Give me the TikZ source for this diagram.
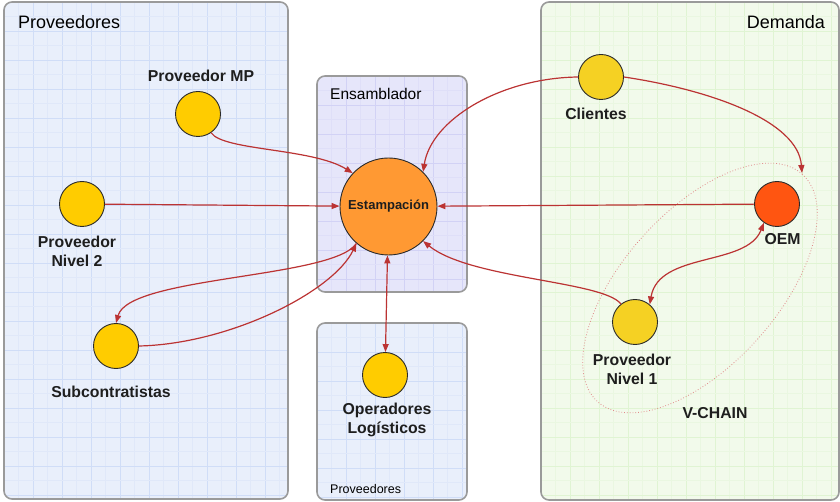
\documentclass[tikz,border=0pt]{standalone}
\usepackage{fontspec}
\setmainfont{Liberation Sans}
\usetikzlibrary{arrows.meta,calc}

\definecolor{provbg}{HTML}{E9EFFB}
\definecolor{provmajor}{HTML}{D0DDF7}
\definecolor{provminor}{HTML}{E0E8F9}
\definecolor{ensbg}{HTML}{E6E6FA}
\definecolor{ensmajor}{HTML}{D2D2F5}
\definecolor{ensminor}{HTML}{DFDFF8}
\definecolor{dembg}{HTML}{F2FAEB}
\definecolor{demmajor}{HTML}{E0F4D3}
\definecolor{demminor}{HTML}{EAF7E1}
\definecolor{panelline}{HTML}{9A9A9A}
\definecolor{flowred}{HTML}{BB3333}
\definecolor{chainred}{HTML}{E08A8A}
\definecolor{circleline}{HTML}{2A2A2A}
\definecolor{yellowA}{HTML}{FFCC00}
\definecolor{yellowB}{HTML}{F5D123}
\definecolor{orangeE}{HTML}{FF9933}
\definecolor{redO}{HTML}{FF5511}
\definecolor{labeltext}{HTML}{1E1E1E}

\begin{document}
\begin{tikzpicture}[x=1pt,y=-1pt,
  panel/.style={draw=panelline, line width=1.6pt, rounded corners=8pt},
  actor/.style={circle, draw=circleline, line width=0.9pt, minimum size=45pt, inner sep=0pt},
  lbl/.style={font=\fontsize{15.8}{19}\selectfont\bfseries, text=labeltext, align=center, anchor=base, inner sep=0pt},
  ttl/.style={font=\fontsize{18}{21}\selectfont, text=black, inner sep=0pt},
  flow/.style={draw=flowred, line width=1.2pt, -{Triangle[length=8pt,width=6pt]}},
  flowboth/.style={draw=flowred, line width=1.2pt, {Triangle[length=8pt,width=6pt]}-{Triangle[length=8pt,width=6pt]}},
  flowplain/.style={draw=flowred, line width=1.2pt},
  chain/.style={draw=chainred, line width=0.8pt, dotted}
]
\useasboundingbox (0,0) rectangle (840,502);

% panel backgrounds with their grids
% Proveedores (left)
\begin{scope}
  \clip[rounded corners=8pt] (4,2) rectangle (288,499);
  \fill[provbg] (4,2) rectangle (288,499);
  \foreach \i in {0,...,19} {
    \draw[provminor, line width=0.5pt] ({4+\i*29+14.5},2) -- ({4+\i*29+14.5},499);
    \draw[provmajor, line width=0.6pt] ({4+\i*29},2) -- ({4+\i*29},499);
  }
  \foreach \i in {0,...,18} {
    \draw[provminor, line width=0.5pt] (4,{2+\i*29+14.5}) -- (288,{2+\i*29+14.5});
    \draw[provmajor, line width=0.6pt] (4,{2+\i*29}) -- (288,{2+\i*29});
  }
\end{scope}
\draw[panel] (4,2) rectangle (288,499);

% Ensamblador
\begin{scope}
  \clip[rounded corners=8pt] (317,76) rectangle (467,292);
  \fill[ensbg] (317,76) rectangle (467,292);
  \foreach \i in {0,...,6} {
    \draw[ensminor, line width=0.5pt] ({317+\i*29+14.5},76) -- ({317+\i*29+14.5},292);
    \draw[ensmajor, line width=0.6pt] ({317+\i*29},76) -- ({317+\i*29},292);
  }
  \foreach \i in {0,...,8} {
    \draw[ensminor, line width=0.5pt] (317,{76+\i*29+14.5}) -- (467,{76+\i*29+14.5});
    \draw[ensmajor, line width=0.6pt] (317,{76+\i*29}) -- (467,{76+\i*29});
  }
\end{scope}
\draw[panel] (317,76) rectangle (467,292);

% Proveedores (logistics)
\begin{scope}
  \clip[rounded corners=8pt] (317,323) rectangle (467,500);
  \fill[provbg] (317,323) rectangle (467,500);
  \foreach \i in {0,...,6} {
    \draw[provminor, line width=0.5pt] ({317+\i*29+14.5},323) -- ({317+\i*29+14.5},500);
    \draw[provmajor, line width=0.6pt] ({317+\i*29},323) -- ({317+\i*29},500);
  }
  \foreach \i in {0,...,7} {
    \draw[provminor, line width=0.5pt] (317,{323+\i*29+14.5}) -- (467,{323+\i*29+14.5});
    \draw[provmajor, line width=0.6pt] (317,{323+\i*29}) -- (467,{323+\i*29});
  }
\end{scope}
\draw[panel] (317,323) rectangle (467,500);

% Demanda (right)
\begin{scope}
  \clip[rounded corners=8pt] (541,2) rectangle (839,500);
  \fill[dembg] (541,2) rectangle (839,500);
  \foreach \i in {0,...,11} {
    \draw[demminor, line width=0.5pt] ({541+\i*29+14.5},2) -- ({541+\i*29+14.5},500);
    \draw[demmajor, line width=0.6pt] ({541+\i*29},2) -- ({541+\i*29},500);
  }
  \foreach \i in {0,...,18} {
    \draw[demminor, line width=0.5pt] (541,{2+\i*29+14.5}) -- (839,{2+\i*29+14.5});
    \draw[demmajor, line width=0.6pt] (541,{2+\i*29}) -- (839,{2+\i*29});
  }
\end{scope}
\draw[panel] (541,2) rectangle (839,500);

% panel titles
\node[ttl, anchor=base west] (tprov) at (18,29) {Proveedores};
\node[ttl, anchor=base east] (tdem) at (825,29) {Demanda};
\node[ttl, font=\fontsize{15.5}{18}\selectfont, anchor=base west] (tens) at (330,100) {Ensamblador};
\node[ttl, font=\fontsize{12.5}{15}\selectfont, anchor=base west] (tlog) at (330,493) {Proveedores};

% V-CHAIN grouping
\coordinate (vc) at (700,288);
\draw[chain, rotate around={48:(vc)}] (vc) ellipse [x radius=153pt, y radius=77pt];
\coordinate (vtop) at (802,173);

% actors
\node[actor, fill=yellowA] (mp) at (198,114) {};
\node[actor, fill=yellowA] (n2) at (82,204) {};
\node[actor, fill=yellowA] (sub) at (116,346) {};
\node[actor, fill=orangeE, minimum size=97pt] (est) at (388.5,206.5)
  {\fontsize{13}{15}\selectfont\bfseries\color{labeltext}Estampación};
\node[actor, fill=yellowA] (op) at (385,375) {};
\node[actor, fill=yellowB] (cli) at (601,77) {};
\node[actor, fill=redO] (oem) at (777,204) {};
\node[actor, fill=yellowB] (n1) at (635,322) {};

% labels (multi-line labels sit on the baseline of their last line)
\node[lbl] (lmp) at (201,82) {Proveedor MP};
\node[lbl] (ln2) at (77,267) {Proveedor\\Nivel 2};
\node[lbl] (lsub) at (111,397) {Subcontratistas};
\node[lbl] (lop) at (387,433) {Operadores\\Logísticos};
\node[lbl] (lcli) at (596,120) {Clientes};
\node[lbl] (loem) at (782.5,245) {OEM};
\node[lbl] (ln1) at (632,384) {Proveedor\\Nivel 1};
\node[lbl] (lvc) at (715,418) {V-CHAIN};

% flows
\draw[flow] (mp.-55) .. controls +(12,18) and +(-40,-25) .. (est.137);
\draw[flow] (n2) -- (est);
\draw[flowplain, -{Triangle[length=8pt,width=6pt]}] (est.229) .. controls +(-23,35) and +(13,-47) .. (sub.north);
\draw[flow] (sub.east) .. controls +(91,-2) and +(-23,48) .. (est.229);
\draw[flowboth] (est) -- (op);
\draw[flow] (cli.west) .. controls +(-78,1) and +(8,-52) .. (est.45);
\draw[flow] (cli.east) .. controls +(87,13) and +(-4,-52) .. (vtop);
\draw[flow] (oem) -- (est);
\draw[flowboth] (oem.235) .. controls +(-17,44) and +(9,-53) .. (n1.50);
\draw[flow] (n1.128) .. controls +(-18,-23) and +(47,38) .. (est.-45);
\end{tikzpicture}
\end{document}
